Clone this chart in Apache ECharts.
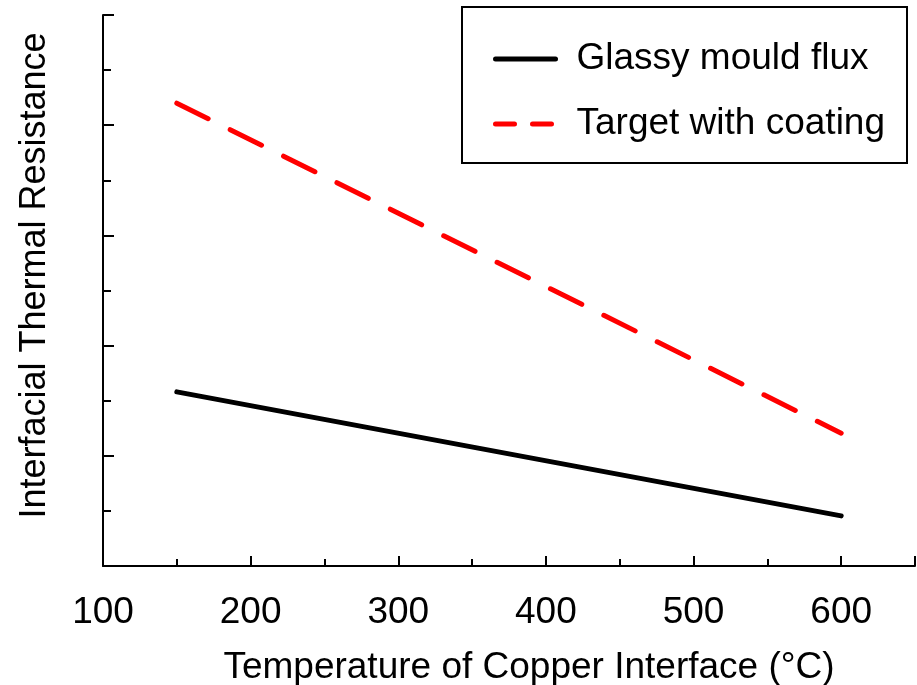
<!DOCTYPE html>
<html>
<head>
<meta charset="utf-8">
<script src="https://cdn.jsdelivr.net/npm/echarts@6/dist/echarts.min.js"></script>
<style>
  html, body { margin: 0; padding: 0; background: #fff; }
  #chart { width: 917px; height: 685px; }
</style>
</head>
<body>
<div id="chart"></div>
<script>
// temperatures (°C) at the two ends of each line
const temperatures = [150, 600];
// interfacial thermal resistance, arbitrary units (axis has no labels)
const glassyFlux = [3.16, 0.91];
const targetCoating = [8.40, 2.41];

const seriesNames = ["Glassy mould flux", "Target with coating"];
const font = "Liberation Sans, Arial, sans-serif";

function pairs(xs, ys) {
    return xs.map((x, i) => [x, ys[i]]);
}

const chart = echarts.init(document.getElementById("chart"));

chart.setOption({
    animation: false,
    backgroundColor: "#fff",
    grid: { left: 103, right: 2, top: 15, bottom: 119, outerBoundsMode: "none", containLabel: false },
    legend: {
        orient: "vertical",
        left: 462,
        top: 7,
        padding: [32, 22, 19, 31],
        itemGap: 25,
        itemWidth: 60,
        itemHeight: 14,
        itemStyle: { opacity: 0 },
        lineStyle: { width: 5 },
        borderColor: "#000",
        borderWidth: 2,
        textStyle: {
            fontFamily: font, fontSize: 37, lineHeight: 40, color: "#000",
            padding: [0, 0, 0, 16],
        },
        data: [
            { name: seriesNames[0] },
            { name: seriesNames[1], lineStyle: { width: 5, type: [19, 18], cap: "round" } },
        ],
    },
    xAxis: {
        type: "value",
        min: 100,
        max: 650,
        interval: 100,
        name: "Temperature of Copper Interface (°C)",
        nameLocation: "middle",
        nameGap: 83,
        nameTextStyle: { fontFamily: font, fontSize: 37, color: "#000", padding: [0, 0, 0, 40] },
        axisLine: { onZero: false, lineStyle: { color: "#000", width: 2 } },
        axisTick: { inside: true, length: 10, lineStyle: { color: "#000", width: 2 } },
        minorTick: { show: true, splitNumber: 2, length: 7, lineStyle: { color: "#000", width: 2 } },
        axisLabel: {
            fontFamily: font, fontSize: 37, color: "#000", margin: 28,
            showMaxLabel: false,
            formatter: (v) => (v % 100 === 0 ? String(v) : ""),
        },
        splitLine: { show: false },
    },
    yAxis: {
        type: "value",
        min: 0,
        max: 10,
        interval: 2,
        name: "Interfacial Thermal Resistance",
        nameLocation: "middle",
        nameGap: 50,
        nameTextStyle: { fontFamily: font, fontSize: 36, color: "#000", padding: [0, 0, 0, 30] },
        axisLine: { show: true, onZero: false, lineStyle: { color: "#000", width: 2 } },
        axisTick: { show: true, inside: true, length: 11, lineStyle: { color: "#000", width: 2 } },
        minorTick: { show: true, splitNumber: 2, length: 8, lineStyle: { color: "#000", width: 2 } },
        axisLabel: { show: false },
        splitLine: { show: false },
    },
    series: [
        {
            name: seriesNames[0],
            type: "line",
            data: pairs(temperatures, glassyFlux),
            symbol: "none",
            color: "#000",
            lineStyle: { color: "#000", width: 5, cap: "round" },
        },
        {
            name: seriesNames[1],
            type: "line",
            data: pairs(temperatures, targetCoating),
            symbol: "none",
            color: "#ff0000",
            lineStyle: { color: "#ff0000", width: 5, type: [35, 24.6], cap: "round" },
        },
    ],
});
</script>
</body>
</html>
